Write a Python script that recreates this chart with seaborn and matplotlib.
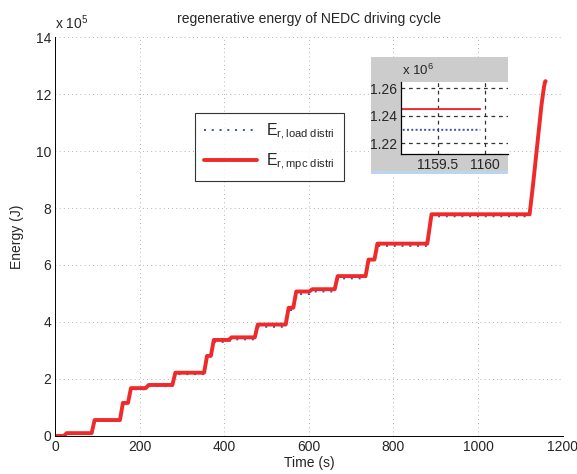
import numpy as np
import pandas as pd
import seaborn as sns
import matplotlib.pyplot as plt
from matplotlib.patches import Rectangle

# NEDC regenerative energy, values in units of 1e5 J
time_s = [0, 20, 27, 86, 93, 153, 160, 172, 179, 214, 221, 277, 284, 352, 359,
          368, 375, 410, 417, 472, 479, 545, 552, 563, 570, 601, 608, 661, 668,
          734, 741, 755, 762, 880, 890, 1122, 1130, 1140, 1150, 1156, 1159, 1159.95]
e_mpc = [0, 0, 0.10, 0.10, 0.56, 0.56, 1.16, 1.16, 1.68, 1.68, 1.79, 1.79, 2.22,
         2.22, 2.81, 2.81, 3.37, 3.37, 3.46, 3.46, 3.91, 3.91, 4.50, 4.50, 5.07,
         5.07, 5.15, 5.15, 5.61, 5.61, 6.19, 6.19, 6.75, 6.75, 7.78, 7.78, 8.80,
         10.20, 11.60, 12.25, 12.449, 12.449]
e_load = [0, 0, 0.09, 0.09, 0.54, 0.54, 1.13, 1.13, 1.64, 1.64, 1.75, 1.75, 2.17,
          2.17, 2.75, 2.75, 3.30, 3.30, 3.39, 3.39, 3.83, 3.83, 4.42, 4.42, 4.98,
          4.98, 5.07, 5.07, 5.53, 5.53, 6.11, 6.11, 6.67, 6.67, 7.71, 7.71, 8.70,
          10.05, 11.45, 12.10, 12.298, 12.298]

x_ticks = [0, 200, 400, 600, 800, 1000, 1200]
y_ticks = [0, 2, 4, 6, 8, 10, 12, 14]
inset_xticks = [1159.5, 1160]
inset_yticks = [1.22, 1.24, 1.26]

sns.set_style("white")
plt.rcParams['font.family'] = ['Liberation Sans', 'DejaVu Sans']
plt.rcParams['mathtext.fontset'] = 'custom'
plt.rcParams['mathtext.rm'] = 'Liberation Sans'
plt.rcParams['mathtext.it'] = 'Liberation Sans'

df = pd.DataFrame({'t': time_s, 'load': e_load, 'mpc': e_mpc})

fig = plt.figure(figsize=(5.77, 4.74), dpi=100)
ax = fig.add_axes([0.0958, 0.0802, 0.8792, 0.8417])

sns.lineplot(data=df, x='t', y='load', ax=ax, color='#3a4fb0', lw=1.4,
             linestyle=(0, (1, 3)), label=r'$\mathrm{E_{r,load\ distri}}$')
sns.lineplot(data=df, x='t', y='mpc', ax=ax, color='#ee2a2a', lw=2.8,
             label=r'$\mathrm{E_{r,mpc\ distri}}$')

ax.set_xlim(0, 1200)
ax.set_ylim(0, 14)
ax.set_xticks(x_ticks)
ax.set_yticks(y_ticks)
ax.tick_params(direction='in', length=4, labelsize=10, width=0.6, pad=3)
ax.grid(True, linestyle=(0, (1, 4)), color='#9a9a9a', lw=0.6)
for s in ['top', 'right']:
    ax.spines[s].set_visible(False)
for s in ['left', 'bottom']:
    ax.spines[s].set_color('black')
    ax.spines[s].set_linewidth(0.7)
ax.set_xlabel('Time (s)', fontsize=10, labelpad=1)
ax.set_ylabel('Energy (J)', fontsize=10, labelpad=8)
ax.set_title('regenerative energy of NEDC driving cycle', fontsize=10, pad=10)
ax.text(0.0, 1.012, r'x 10$^5$', transform=ax.transAxes, fontsize=10,
        ha='left', va='bottom')

leg = ax.legend(loc='upper left', bbox_to_anchor=(0.338, 0.7616),
                bbox_transform=fig.transFigure, fontsize=11.5, frameon=True,
                fancybox=False, edgecolor='black', handlelength=3.3,
                labelspacing=0.6, borderpad=0.55, handletextpad=0.6,
                borderaxespad=0)
leg.get_frame().set_linewidth(0.8)

# grey inset panel
fig.patches.append(Rectangle((0.643, 0.6392), 0.2369, 0.2399, transform=fig.transFigure,
                             facecolor='#cccccc', edgecolor='none', zorder=2))
fig.patches.append(Rectangle((0.643, 0.6329), 0.2369, 0.0063, transform=fig.transFigure,
                             facecolor='#bcd4ee', edgecolor='none', zorder=2))

ins = fig.add_axes([0.6955, 0.6745, 0.1844, 0.1531], zorder=3)
ins.set_facecolor('white')
df_in = pd.DataFrame({'t': time_s, 'load': np.array(e_load) / 10, 'mpc': np.array(e_mpc) / 10})
sns.lineplot(data=df_in, x='t', y='load', ax=ins, color='#3a4fb0', lw=1.4,
             linestyle=(0, (1, 1.2)))
sns.lineplot(data=df_in, x='t', y='mpc', ax=ins, color='#ee2a2a', lw=1.4)
ins.set_xlim(1159.115, 1160.24)
ins.set_ylim(1.212, 1.2648)
ins.set_xticks(inset_xticks)
ins.set_xticklabels(['1159.5', '1160'])
ins.set_yticks(inset_yticks)
ins.set_xlabel('')
ins.set_ylabel('')
ins.grid(True, linestyle=(0, (3, 3)), color='#333333', lw=0.9)
ins.tick_params(direction='in', length=3, labelsize=10, pad=3)
for s in ['top', 'right']:
    ins.spines[s].set_visible(False)
for s in ['left', 'bottom']:
    ins.spines[s].set_color('black')
    ins.spines[s].set_linewidth(0.9)
fig.text(0.697, 0.835, r'x 10$^6$', fontsize=9.5, ha='left', va='bottom', zorder=4)

fig.savefig('out.png', dpi=100)
